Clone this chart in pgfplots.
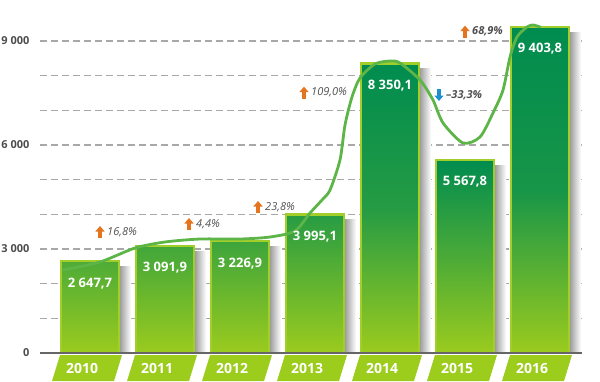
\documentclass[border=0pt]{standalone}
\usepackage{pgfplots}
\pgfplotsset{compat=1.18}
\usepackage{fontspec}
\setmainfont{Open Sans}
\usetikzlibrary{arrows.meta}
\definecolor{darkG}{HTML}{008C4F}
\definecolor{limeG}{HTML}{9BCB1E}
\definecolor{borderc}{HTML}{A2CE2A}
\definecolor{bandc}{HTML}{9CCC1C}
\definecolor{curvec}{HTML}{5DB548}
\definecolor{orangeA}{HTML}{E5741E}
\definecolor{blueA}{HTML}{1E90D0}
\definecolor{tickgray}{HTML}{4D4D4D}
\definecolor{pctgray}{HTML}{505050}
\definecolor{gridc}{HTML}{A8A8A8}
\definecolor{axisc}{HTML}{666666}

% x, value, top pct, mid pct, shadow top
\newcommand{\onebar}[5]{%
  \addplot[ybar, bar width=16pt, bar shift=33pt, draw=none, left color=black!55, right color=white] coordinates {(#1,#5)};
  \addplot[ybar, bar width=58pt, bar shift=0pt, draw=borderc, line width=2.5pt, top color=darkG!#3!limeG, bottom color=limeG, middle color=darkG!#4!limeG] coordinates {(#1,#2)};
}
\newcommand{\uppct}[3]{%
  \draw[orangeA, line width=3.5pt, -{Triangle[width=9pt,length=5.5pt]}] ([yshift=-6pt]axis cs:#1,#2) -- ([yshift=6pt]axis cs:#1,#2);
  \node[anchor=west, inner sep=0pt, font=\itshape\fontsize{11}{12}\selectfont, text=pctgray] at ([xshift=7pt]axis cs:#1,#2) {#3};
}

\begin{document}
\begin{tikzpicture}
\begin{axis}[
  at={(40pt,28pt)}, anchor=south west,
  scale only axis, width=542pt, height=346.67pt,
  xmin=-0.667, xmax=6.56, ymin=0, ymax=10000,
  clip=false, set layers,
  axis line style={draw=none},
  tick style={draw=none},
  major tick length=0pt,
  xtick={0,...,6},
  xticklabels={2010,2011,2012,2013,2014,2015,2016},
  ytick={0,3000,6000,9000},
  yticklabels={0,3 000,6 000,9 000},
  extra y ticks={1000,2000,4000,5000,7000,8000},
  extra y tick labels={},
  extra y tick style={grid=major},
  ymajorgrids,
  grid style={gridc, line width=1.3pt, dash pattern=on 7pt off 4pt},
  yticklabel style={font=\bfseries\fontsize{11}{13}\selectfont, text=tickgray, anchor=east, xshift=-7pt},
  xticklabel style={font=\bfseries\fontsize{14}{16}\selectfont, text=white, anchor=center, yshift=-15pt, xshift=-8pt},
]
\begin{pgfonlayer}{axis background}
\pgfplotsinvokeforeach{0,...,6}{
  \fill[bandc] ([xshift=-30pt,yshift=-2pt]axis cs:#1,0) -- ([xshift=32pt,yshift=-2pt]axis cs:#1,0)
     -- ([xshift=24pt,yshift=-28pt]axis cs:#1,0) -- ([xshift=-38pt,yshift=-28pt]axis cs:#1,0) -- cycle;
}
\end{pgfonlayer}

\onebar{0}{2647.7}{50}{25}{2500}
\onebar{1}{3091.9}{58}{29}{2940}
\onebar{2}{3226.9}{61}{30}{3080}
\onebar{3}{3995.1}{75}{37}{3850}
\onebar{4}{8350.1}{100}{76}{8200}
\onebar{5}{5567.8}{100}{52}{5420}
\onebar{6}{9403.8}{100}{85}{9250}

\addplot[smooth, tension=0.45, curvec, line width=2.8pt, line cap=round] coordinates {
(-0.364,2394) (0.133,2625) (0.6,3029) (1.0,3202) (1.467,3288) (2.0,3288) (2.4,3346)
(2.733,3519) (2.933,4038) (3.093,4413) (3.2,4702) (3.333,5567) (3.4,6577) (3.493,7385)
(3.6,7933) (3.8,8337) (4.0,8423) (4.133,8365) (4.4,7875) (4.573,7298) (4.707,6635)
(4.973,6058) (5.2,6231) (5.373,6923) (5.507,7587) (5.6,8538) (5.693,9115) (5.827,9404)
(5.907,9462) (6.0,9404)
};

\begin{pgfonlayer}{axis foreground}
\draw[axisc, line width=2pt] (rel axis cs:0,0) -- (rel axis cs:1,0);
\end{pgfonlayer}

\node[text=white, font=\bfseries\fontsize{13}{15}\selectfont, yshift=-22pt] at (axis cs:0,2647.7) {2 647,7};
\node[text=white, font=\bfseries\fontsize{13}{15}\selectfont, yshift=-22pt] at (axis cs:1,3091.9) {3 091,9};
\node[text=white, font=\bfseries\fontsize{13}{15}\selectfont, yshift=-22pt] at (axis cs:2,3226.9) {3 226,9};
\node[text=white, font=\bfseries\fontsize{13}{15}\selectfont, yshift=-22pt] at (axis cs:3,3995.1) {3 995,1};
\node[text=white, font=\bfseries\fontsize{13}{15}\selectfont, yshift=-22pt] at (axis cs:4,8350.1) {8 350,1};
\node[text=white, font=\bfseries\fontsize{13}{15}\selectfont, yshift=-22pt] at (axis cs:5,5567.8) {5 567,8};
\node[text=white, font=\bfseries\fontsize{13}{15}\selectfont, yshift=-22pt] at (axis cs:6,9403.8) {9 403,8};

\uppct{0.133}{3490}{16,8\%}
\uppct{1.32}{3721}{4,4\%}
\uppct{2.24}{4211}{23,8\%}
\uppct{2.853}{7510}{109,0\%}
\uppct{5.0}{9270}{\bfseries 68,9\%}
\draw[blueA, line width=3.5pt, -{Triangle[width=9pt,length=5.5pt]}] ([yshift=6pt]axis cs:4.653,7442) -- ([yshift=-6pt]axis cs:4.653,7442);
\node[anchor=west, inner sep=0pt, font=\bfseries\itshape\fontsize{11}{12}\selectfont, text=pctgray] at ([xshift=7pt]axis cs:4.653,7442) {–33,3\%};
\end{axis}
\pgfresetboundingbox
\path (0,0) rectangle (600pt,381pt);
\end{tikzpicture}
\end{document}
